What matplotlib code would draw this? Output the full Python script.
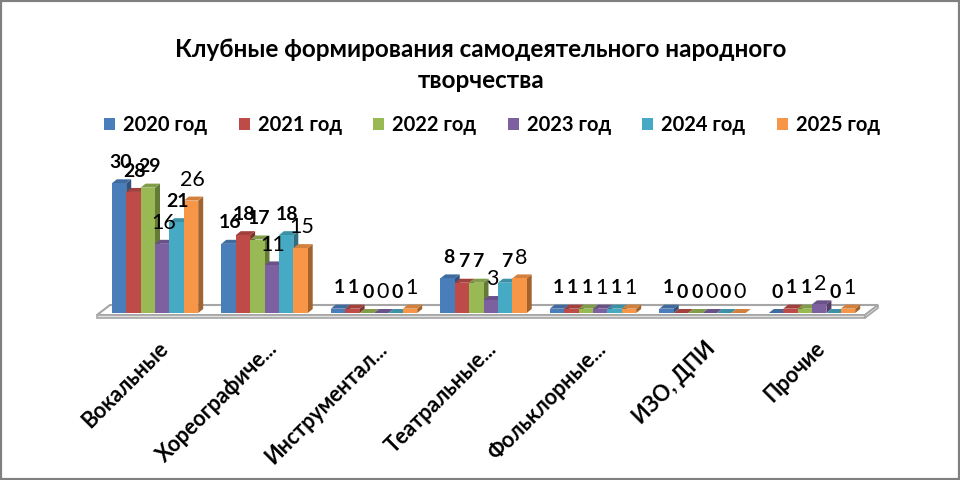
import matplotlib
matplotlib.use('Agg')
import matplotlib.pyplot as plt
from matplotlib.patches import Polygon, Rectangle
from matplotlib.transforms import ScaledTranslation

plt.rcParams['font.family'] = ['Lato', 'Noto Sans', 'DejaVu Sans']

categories = ['Вокальные', 'Хореографиче...', 'Инструментал...', 'Театральные...',
              'Фольклорные...', 'ИЗО, ДПИ', 'Прочие']
years = ['2020 год', '2021 год', '2022 год', '2023 год', '2024 год', '2025 год']
v2020 = [30, 16, 1, 8, 1, 1, 0]
v2021 = [28, 18, 1, 7, 1, 0, 1]
v2022 = [29, 17, 0, 7, 1, 0, 1]
v2023 = [16, 11, 0, 3, 1, 0, 2]
v2024 = [21, 18, 0, 7, 1, 0, 0]
v2025 = [26, 15, 1, 8, 1, 0, 1]
series = [v2020, v2021, v2022, v2023, v2024, v2025]
colors = ['#4A7EBB', '#BE4B48', '#98B954', '#7D60A0', '#46AAC5', '#F79646']
label_bold = [True, True, True, False, True, False]


def shade(c, f):
    r, g, b = matplotlib.colors.to_rgb(c)
    return (r * f, g * f, b * f)


fig = plt.figure(figsize=(9.6, 4.8), dpi=100)
L, R, B, T = 95, 880, 313, 166
ax = fig.add_axes([L / 960, 1 - B / 480, (R - L) / 960, (B - T) / 480])
XL, XR = -0.548, 6.621
ax.set_xlim(XL, XR)
ax.set_ylim(0, 34)
for s in ax.spines.values():
    s.set_visible(False)
ax.set_yticks([])
ax.patch.set_alpha(0)

ux = (R - L) / (XR - XL)
uy = (B - T) / 34.0
dxd = 5 / ux
dyd = 4 / uy
bw = 14.4 / ux

# floor
x0 = XL + 2 / ux
x1 = XR - 15 / ux
f_front = -2 / uy
f_back = 8 / uy
floor = Polygon([(x0, f_front), (x1, f_front), (x1 + 13 / ux, f_back), (x0 + 13 / ux, f_back)],
                closed=True, fc='white', ec='#A6A6A6', lw=1.5, clip_on=False, zorder=1)
ax.add_patch(floor)
ffront = Polygon([(x0, f_front), (x1, f_front), (x1, f_front - 3 / uy), (x0, f_front - 3 / uy)],
                 closed=True, fc='#E0E0E0', ec='#A6A6A6', lw=1.2, clip_on=False, zorder=1)
ax.add_patch(ffront)
fside = Polygon([(x1, f_front), (x1 + 13 / ux, f_back), (x1 + 13 / ux, f_back - 3 / uy), (x1, f_front - 3 / uy)],
                closed=True, fc='#E0E0E0', ec='#A6A6A6', lw=1.2, clip_on=False, zorder=1)
ax.add_patch(fside)

n = len(series)
for i in range(len(categories)):
    for j in range(n):
        v = series[j][i]
        x = i + (j - (n - 1) / 2) * bw
        z = 2 + (i * n + j) * 0.01
        c = colors[j]
        ax.bar(x, v, width=bw, color=c, zorder=z + 0.003, clip_on=False, lw=0)
        top = Polygon([(x - bw / 2, v), (x + bw / 2, v), (x + bw / 2 + dxd, v + dyd), (x - bw / 2 + dxd, v + dyd)],
                      closed=True, fc=shade(c, 0.85), ec='none', zorder=z + 0.002, clip_on=False)
        side = Polygon([(x + bw / 2, 0), (x + bw / 2 + dxd, dyd), (x + bw / 2 + dxd, v + dyd), (x + bw / 2, v)],
                       closed=True, fc=shade(c, 0.66), ec='none', zorder=z + 0.001, clip_on=False)
        ax.add_patch(top)
        ax.add_patch(side)
        if label_bold[j]:
            ax.annotate(str(v), (x, v), xytext=(1, 15), textcoords='offset points',
                        ha='center', va='center', fontsize=14, fontweight='bold',
                        color='black', zorder=50)
        else:
            ax.annotate(str(v), (x, v), xytext=(1, 15), textcoords='offset points',
                        ha='center', va='center', fontsize=15.5, fontweight='normal',
                        color='black', zorder=50)

ax.set_xticks(range(len(categories)))
ax.set_xticklabels(categories, rotation=45, ha='right', rotation_mode='anchor',
                   fontsize=15.5, fontweight='bold')
ax.tick_params(axis='x', length=0, pad=18)
for lab in ax.get_xticklabels():
    lab.set_transform(lab.get_transform() + ScaledTranslation(2 / 100, 0, fig.dpi_scale_trans))

fig.text(481 / 960, 1 - 65 / 480, 'Клубные формирования самодеятельного народного\nтворчества',
         ha='center', va='center', fontsize=17.5, fontweight='bold', linespacing=1.45)

handles = [Rectangle((0, 0), 1, 1, fc=c, ec='none') for c in colors]
fig.legend(handles, years, loc='center', bbox_to_anchor=(492 / 960, 1 - 125 / 480), ncol=6,
           frameon=False, prop={'weight': 'bold', 'size': 14.5}, handlelength=0.55, handleheight=0.6,
           handletextpad=0.4, columnspacing=1.55)

fig.add_artist(Rectangle((0, 0), 1, 1, transform=fig.transFigure, fill=False, ec='#808080', lw=3))

fig.savefig('out.png', dpi=100)
